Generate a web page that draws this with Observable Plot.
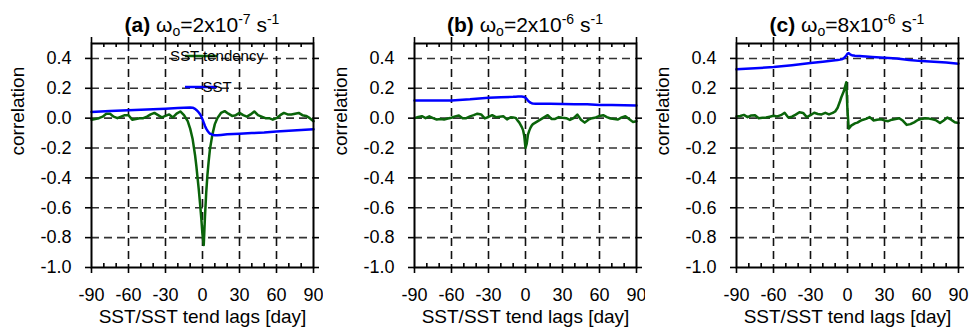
<!DOCTYPE html>
<html><head><meta charset="utf-8">
<script src="https://cdn.jsdelivr.net/npm/d3@7"></script>
<script src="https://cdn.jsdelivr.net/npm/@observablehq/plot@0.6"></script>
<style>
body{margin:0;background:#fff;width:969px;height:333px;overflow:hidden;position:relative;font-family:"Liberation Sans",Arial,sans-serif}
.panel{position:absolute;top:0}
</style></head><body>
<div id="wrap"></div>
<script>
// lag axis for SST tendency correlation (days)
const tendLags = [-90,-87,-84,-81,-78,-75,-72,-69,-66,-63,-60,-57,-54,-51,-48,-45,-42,-39,-36,-33,-30,-27,-24,-21,-18,-15,-12,-10,-8,-6,-5,-4,-3,-2,-1,0,1,2,3,4,5,6,8,10,12,15,18,21,24,27,30,33,36,39,42,45,48,51,54,57,60,63,66,69,72,75,78,81,84,87,90];
// lag axis for SST correlation (days)
const sstLags = [-90,-75,-60,-45,-30,-20,-10,-8,-6,-5,-4,-3,-2,-1,0,1,2,3,4,5,6,8,10,12,15,20,30,40,50,60,70,80,90];

const tendA = [-0.01,-0.005,0.0,0.01,0.03,0.03,0.01,0.0,0.01,0.02,0.02,-0.01,-0.005,0.0,0.0,0.01,0.025,0.035,0.02,0.005,0.015,0.025,0.005,0.03,0.045,0.02,-0.02,-0.07,-0.14,-0.25,-0.32,-0.40,-0.48,-0.57,-0.67,-0.78,-0.85,-0.66,-0.50,-0.38,-0.29,-0.21,-0.11,-0.04,0.0,0.035,0.047,0.03,0.015,0.02,0.035,0.02,0.01,0.025,0.045,0.02,0.01,0.0,0.0,-0.01,0.0,0.02,0.035,0.025,0.025,0.03,0.035,0.02,0.015,0.0,-0.02];
const sstA = [0.042,0.048,0.053,0.058,0.063,0.068,0.072,0.07,0.062,0.055,0.047,0.038,0.027,0.012,-0.008,-0.03,-0.052,-0.07,-0.084,-0.095,-0.103,-0.111,-0.114,-0.114,-0.112,-0.108,-0.104,-0.1,-0.096,-0.09,-0.085,-0.08,-0.075];

const tendB = [0.0,0.008,0.013,0.0,0.012,0.0,-0.009,-0.005,-0.009,-0.002,0.003,0.012,0.018,0.0,0.0,0.012,0.02,0.03,0.025,-0.002,0.008,0.02,0.007,0.01,0.013,-0.008,0.006,0.004,0.002,-0.02,-0.03,-0.045,-0.06,-0.08,-0.12,-0.2,-0.17,-0.11,-0.085,-0.065,-0.05,-0.04,-0.03,-0.02,-0.01,0.005,0.02,-0.005,-0.005,0.007,0.003,0.0,-0.012,0.0,0.024,-0.01,-0.03,-0.01,0.0,0.005,0.015,0.02,0.007,-0.002,-0.005,-0.009,0.005,0.013,-0.005,-0.025,-0.02];
const sstB = [0.118,0.118,0.119,0.126,0.136,0.14,0.143,0.144,0.145,0.145,0.145,0.145,0.144,0.142,0.137,0.128,0.118,0.11,0.104,0.1,0.098,0.097,0.097,0.096,0.096,0.096,0.095,0.094,0.093,0.088,0.088,0.087,0.085];

const tendC = [0.012,0.015,0.022,0.007,0.018,0.02,0.0,0.002,0.004,0.01,0.016,0.012,0.02,0.036,0.005,0.01,0.024,0.04,0.035,0.007,0.02,0.036,0.028,0.025,0.036,0.025,0.035,0.045,0.07,0.115,0.14,0.16,0.18,0.21,0.24,0.05,-0.07,-0.06,-0.05,-0.045,-0.04,-0.035,-0.03,-0.02,-0.012,-0.005,0.007,-0.015,-0.01,-0.007,-0.015,-0.02,-0.01,-0.005,0.0,-0.018,-0.045,-0.04,-0.028,-0.012,-0.005,0.0,-0.003,-0.007,-0.015,-0.032,-0.015,0.004,-0.01,-0.028,-0.033];
const sstC = [0.327,0.335,0.342,0.355,0.369,0.378,0.388,0.39,0.392,0.394,0.396,0.401,0.41,0.42,0.432,0.435,0.428,0.423,0.42,0.419,0.418,0.417,0.416,0.415,0.413,0.41,0.405,0.4,0.39,0.382,0.378,0.373,0.365];

const xTicks = [-90,-60,-30,0,30,60,90];
const xMinor = [-80,-70,-50,-40,-20,-10,10,20,40,50,70,80];
const yTicks = [-1.0,-0.8,-0.6,-0.4,-0.2,0.0,0.2,0.4];

const panelIds = ["(a)","(b)","(c)"];
const coefs = ["2","2","8"];
const exps = ["-7","-6","-6"];
const seriesNames = ["SST tendency","SST"];
const tends = [tendA,tendB,tendC];
const ssts = [sstA,sstB,sstC];
const offsets = [0,323,645];

const GREEN = "#0a640a", BLUE = "#0000ff";
const FONT = "'Liberation Sans', Arial, Helvetica, sans-serif";
const THIN = 1.6;

panelIds.forEach((id, i) => {
  const tend = tendLags.map((lag, j) => ({lag, r: tends[i][j]}));
  const sst = sstLags.map((lag, j) => ({lag, r: ssts[i][j]}));
  const chart = Plot.plot({
    width: 322, height: 333,
    marginLeft: 91, marginRight: 9, marginTop: 43, marginBottom: 66,
    style: {fontFamily: FONT, background: "white", color: "black", overflow: "visible"},
    x: {domain: [-90, 90]},
    y: {domain: [-1, 0.5]},
    marks: [
      Plot.ruleY(yTicks.filter(v => v > -1), {y: d => d, stroke: "#333", strokeWidth: THIN, strokeDasharray: "8,5"}),
      Plot.ruleX(xTicks.filter(v => v > -90 && v < 90), {x: d => d, stroke: "#111", strokeWidth: THIN, strokeDasharray: "8,5"}),
      Plot.line(tend, {x: "lag", y: "r", stroke: GREEN, strokeWidth: 2.5}),
      Plot.line(sst, {x: "lag", y: "r", stroke: BLUE, strokeWidth: 2.5}),
      Plot.tickX(xMinor, {x: d => d, stroke: "black", strokeWidth: THIN, insetTop: 220}),
      Plot.tickX(xMinor, {x: d => d, stroke: "black", strokeWidth: THIN, insetBottom: 220}),
      Plot.tickX(xTicks, {x: d => d, stroke: "black", strokeWidth: THIN, insetTop: 224, insetBottom: -6}),
      Plot.tickX(xTicks, {x: d => d, stroke: "black", strokeWidth: THIN, insetTop: -6, insetBottom: 224}),
      Plot.tickY(yTicks, {y: d => d, stroke: "black", strokeWidth: THIN, insetLeft: -6, insetRight: 222}),
      Plot.tickY(yTicks, {y: d => d, stroke: "black", strokeWidth: THIN, insetLeft: 222, insetRight: -6}),
      Plot.frame({stroke: "black", strokeWidth: 2}),
      Plot.axisX(xTicks, {anchor: "bottom", tickSize: 0, tickPadding: 21, fontSize: 18, tickFormat: d => String(d), label: null}),
      Plot.axisY(yTicks, {anchor: "left", tickSize: 0, tickPadding: 20, fontSize: 18, tickFormat: d => d.toFixed(1), label: null}),
      Plot.text(["correlation"], {text: d => d, frameAnchor: "left", dx: -74, rotate: -90, fontSize: 19}),
      Plot.text(["SST/SST tend lags [day]"], {text: d => d, frameAnchor: "bottom", dy: 55, fontSize: 19})
    ]
  });
  const svg = d3.select(chart);
  const t = svg.append("text").attr("x", 202).attr("y", 32).attr("text-anchor", "middle")
    .attr("font-size", 21).attr("fill", "black").attr("font-family", FONT);
  t.append("tspan").attr("font-weight", "bold").text(id);
  t.append("tspan").text(" ω");
  t.append("tspan").attr("font-size", 14).attr("dy", 4).text("o");
  t.append("tspan").attr("dy", -4).text("=" + coefs[i] + "x10");
  t.append("tspan").attr("font-size", 14).attr("dy", -8).text(exps[i]);
  t.append("tspan").attr("dy", 8).text(" s");
  t.append("tspan").attr("font-size", 14).attr("dy", -8).text("-1");

  if (i === 0) {
    const leg = svg.append("g").attr("font-family", FONT).attr("font-size", 15);
    [[seriesNames[0], GREEN, 56], [seriesNames[1], BLUE, 87]].forEach(([name, col, yy]) => {
      leg.append("line").attr("x1", 185).attr("x2", 217).attr("y1", yy).attr("y2", yy)
        .attr("stroke", col).attr("stroke-width", 2.5);
      leg.append("text").attr("x", 217).attr("y", yy).attr("dy", "0.35em").attr("fill", "black").text(name);
    });
  }
  const div = document.createElement("div");
  div.className = "panel";
  div.style.left = offsets[i] + "px";
  div.appendChild(chart);
  document.getElementById("wrap").appendChild(div);
});
</script>
</body></html>
